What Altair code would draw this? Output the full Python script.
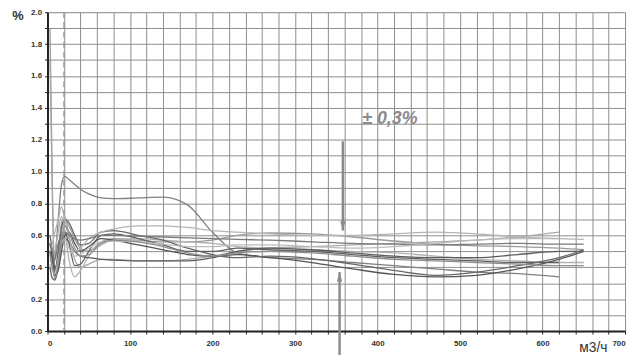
import altair as alt
import pandas as pd

# shared x positions (m3/h)
x_pts = [3, 6, 9, 13, 17, 21, 26, 33, 40, 50, 65, 80, 110, 140, 170, 200, 230, 270, 320, 370, 420, 470, 520, 570, 620, 650]

s1 = [0.50, 0.40, 0.45, 0.70, 0.92, 0.97, 0.95, 0.92, 0.89, 0.86, 0.835, 0.83, 0.835, 0.84, 0.79, 0.62, 0.49, 0.46, 0.45, 0.43, 0.41, 0.39, 0.37, 0.36, 0.34, None]
s2 = [1.90, 0.90, 0.32, 0.45, 0.62, 0.70, 0.66, 0.58, 0.52, 0.50, 0.56, 0.58, 0.57, 0.56, 0.56, 0.57, 0.60, 0.615, 0.61, 0.59, 0.565, 0.545, 0.535, 0.53, 0.52, 0.51]
s3 = [1.70, 0.80, 0.35, 0.50, 0.68, 0.72, 0.60, 0.45, 0.40, 0.42, 0.45, 0.45, 0.44, 0.44, 0.45, 0.47, 0.50, 0.52, 0.53, 0.54, 0.55, 0.56, 0.57, 0.59, 0.62, None]
s4 = [0.45, 0.42, 0.50, 0.62, 0.72, 0.62, 0.45, 0.34, 0.38, 0.47, 0.54, 0.57, 0.58, 0.57, 0.56, 0.55, 0.53, 0.52, 0.51, 0.50, 0.49, 0.47, 0.45, 0.44, 0.43, 0.43]
s5 = [0.40, 0.33, 0.32, 0.40, 0.55, 0.62, 0.55, 0.41, 0.42, 0.50, 0.60, 0.61, 0.58, 0.54, 0.50, 0.50, 0.52, 0.51, 0.50, 0.48, 0.46, 0.45, 0.44, 0.43, 0.43, None]
s6 = [0.55, 0.45, 0.35, 0.38, 0.50, 0.60, 0.62, 0.55, 0.50, 0.53, 0.58, 0.57, 0.54, 0.51, 0.48, 0.47, 0.48, 0.46, 0.43, 0.39, 0.355, 0.34, 0.35, 0.39, 0.45, 0.50]
s7 = [0.60, 0.50, 0.38, 0.50, 0.65, 0.70, 0.68, 0.60, 0.54, 0.55, 0.62, 0.63, 0.60, 0.57, 0.52, 0.48, 0.46, 0.47, 0.455, 0.42, 0.38, 0.35, 0.37, 0.41, 0.46, 0.51]
s8 = [0.50, 0.45, 0.40, 0.45, 0.55, 0.58, 0.56, 0.50, 0.47, 0.46, 0.45, 0.445, 0.44, 0.44, 0.44, 0.46, 0.50, 0.52, 0.51, 0.49, 0.47, 0.46, 0.46, 0.48, 0.50, 0.50]
s9 = [0.50, 0.55, 0.62, 0.70, 0.78, 0.70, 0.58, 0.50, 0.52, 0.58, 0.62, 0.64, 0.66, 0.66, 0.65, 0.63, 0.62, 0.61, 0.60, 0.60, 0.61, 0.62, 0.61, 0.59, 0.58, 0.575]
s10 = [0.55, 0.50, 0.45, 0.55, 0.60, 0.62, 0.60, 0.58, 0.57, 0.58, 0.60, 0.60, 0.595, 0.59, 0.585, 0.58, 0.575, 0.57, 0.56, 0.55, 0.545, 0.54, 0.545, 0.55, 0.545, 0.545]
s11 = [0.42, 0.38, 0.36, 0.45, 0.55, 0.58, 0.52, 0.47, 0.48, 0.52, 0.56, 0.565, 0.56, 0.545, 0.53, 0.53, 0.54, 0.54, 0.53, 0.52, 0.53, 0.55, 0.57, 0.58, 0.58, None]
s12 = [0.48, 0.40, 0.33, 0.42, 0.58, 0.66, 0.62, 0.52, 0.47, 0.48, 0.55, 0.57, 0.56, 0.53, 0.49, 0.47, 0.49, 0.50, 0.49, 0.47, 0.45, 0.44, 0.43, 0.42, 0.41, 0.41]

series = {"s1": s1, "s2": s2, "s3": s3, "s4": s4, "s5": s5, "s6": s6,
          "s7": s7, "s8": s8, "s9": s9, "s10": s10, "s11": s11, "s12": s12}
line_grays = ["#808080", "#9a9a9a", "#a8a8a8", "#b2b2b2", "#606060", "#555555",
              "#686868", "#5c5c5c", "#b4b4b4", "#7a7a7a", "#bcbcbc", "#8e8e8e"]

rows = []
for name, ys in series.items():
    for xv, yv in zip(x_pts, ys):
        if yv is not None:
            rows.append({"series": name, "q": xv, "err": yv})
df = pd.DataFrame(rows)

x_grid = list(range(0, 701, 20))
y_grid = [round(i * 0.1, 1) for i in range(0, 21)]

# annotations
label_text = ["± 0,3%"]
label_x = [415]
label_y = [1.33]
arrow_top_x = [358]
arrow_top_y = [1.19]
arrow_top_tip = [0.63]
arrow_bot_x = [354]
arrow_bot_y = [-0.2]
arrow_bot_tip = [0.37]
dash_x = [20]

xs = alt.Scale(domain=[0, 700], nice=False, zero=False)
ys_ = alt.Scale(domain=[0, 2.0], nice=False, zero=False)

x_axis = alt.Axis(values=x_grid, title=None, labelOverlap=False,
                  labelExpr="datum.value % 100 == 0 ? datum.value : ''",
                  grid=True, gridColor="#8c8c8c", gridWidth=1,
                  domainColor="#222222", domainWidth=2, tickColor="#222222", tickSize=3,
                  labelFont="Arial", labelFontSize=8, labelFontWeight="bold", labelColor="#333333",
                  labelPadding=6)
y_axis = alt.Axis(values=y_grid, title=None, labelOverlap=False,
                  labelExpr="round(datum.value*10) % 2 == 0 ? format(datum.value, '.1f') : ''",
                  grid=True, gridColor="#8c8c8c", gridWidth=1,
                  domainColor="#222222", domainWidth=2, tickColor="#222222", tickSize=3,
                  labelFont="Arial", labelFontSize=8, labelFontWeight="bold", labelColor="#333333",
                  labelPadding=3)


def X(f):
    return alt.X(f, type="quantitative", scale=xs, axis=x_axis)


def Y(f):
    return alt.Y(f, type="quantitative", scale=ys_, axis=y_axis)


lines = alt.Chart(df).mark_line(interpolate="monotone", strokeWidth=1.3).encode(
    x=X("q"),
    y=Y("err"),
    color=alt.Color("series:N", scale=alt.Scale(domain=list(series.keys()), range=line_grays), legend=None),
    detail="series:N",
)

dash = alt.Chart(pd.DataFrame({"x": dash_x})).mark_rule(
    color="#9a9a9a", strokeWidth=1.5, strokeDash=[6, 4]).encode(
    x=X("x"), y=alt.value(0), y2=alt.value(323))

ann = pd.DataFrame({"t": label_text, "x": label_x, "y": label_y})
label = alt.Chart(ann).mark_text(font="Arial", fontSize=18, fontWeight="bold", fontStyle="italic",
                                 color="#8a8a8a", align="center", baseline="middle").encode(
    x=X("x"), y=Y("y"), text="t:N")

top_df = pd.DataFrame({"x": arrow_top_x, "y": arrow_top_y, "tip": arrow_top_tip})
top_rule = alt.Chart(top_df).mark_rule(color="#8a8a8a", strokeWidth=2.5).encode(
    x=X("x"), y=Y("y"), y2="tip:Q")
top_head = alt.Chart(top_df).mark_point(shape="M-0.6,-1L0.6,-1L0,1Z", filled=True, size=80,
                                        color="#8a8a8a", opacity=1, yOffset=-5).encode(
    x=X("x"), y=Y("tip"))

bot_df = pd.DataFrame({"x": arrow_bot_x, "y": arrow_bot_y, "tip": arrow_bot_tip})
bot_rule = alt.Chart(bot_df).mark_rule(color="#8a8a8a", strokeWidth=2.5).encode(
    x=X("x"), y=Y("y"), y2="tip:Q")
bot_head = alt.Chart(bot_df).mark_point(shape="M-0.6,1L0.6,1L0,-1Z", filled=True, size=80,
                                        color="#8a8a8a", opacity=1, yOffset=5).encode(
    x=X("x"), y=Y("tip"))

pct = alt.Chart(pd.DataFrame({"t": ["%"]})).mark_text(
    font="Arial", fontSize=13, fontWeight="bold", color="#333333", align="center", baseline="middle").encode(
    x=alt.value(-30), y=alt.value(4), text="t:N")
unit = alt.Chart(pd.DataFrame({"t": ["м3/ч"]})).mark_text(
    font="Arial", fontSize=14, color="#333333", align="center", baseline="middle").encode(
    x=alt.value(553), y=alt.value(340), text="t:N")

chart = alt.layer(lines, dash, label, top_rule, top_head, bot_rule, bot_head, pct, unit).properties(
    width=585, height=323,
    autosize=alt.AutoSizeParams(type="none"),
    padding={"left": 40, "top": 2, "right": 4, "bottom": 22},
).configure_view(stroke="#444444", strokeWidth=1.5).configure(background="white")

chart.save("out.html", embed_options={"renderer": "svg", "actions": False})
